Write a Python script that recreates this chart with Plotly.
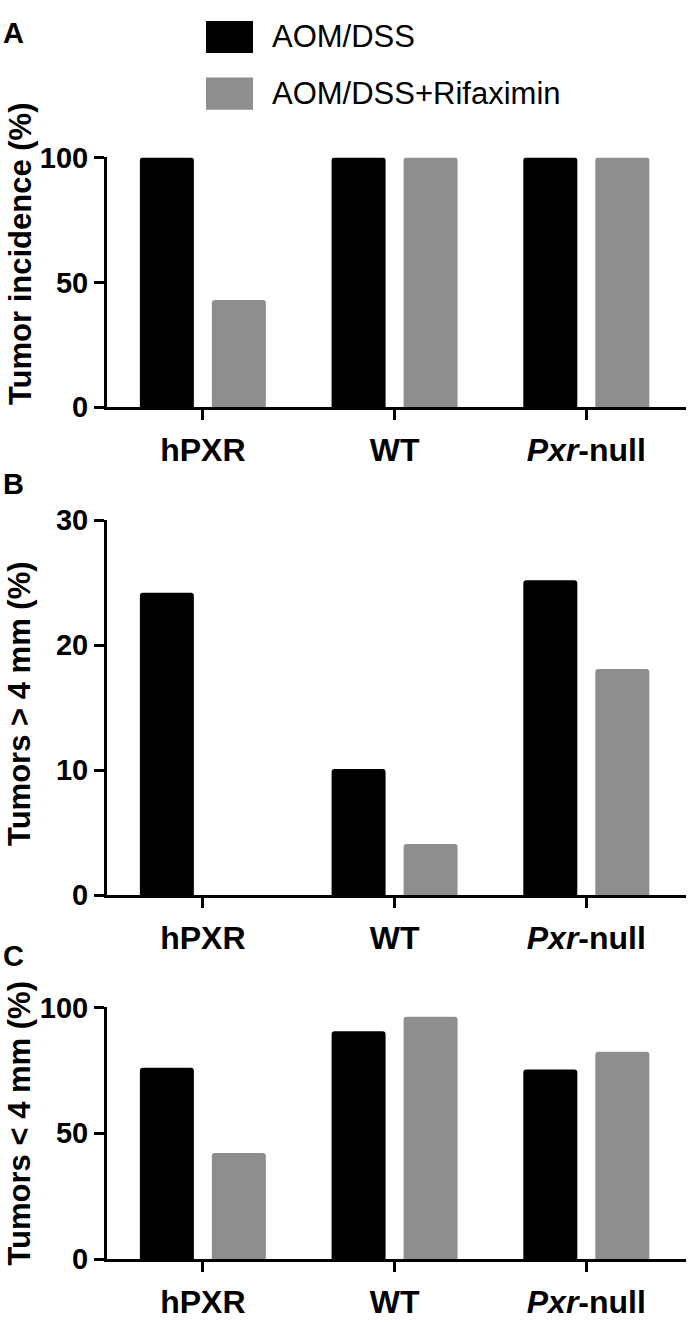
import plotly.graph_objects as go

W, H = 690, 1323

categories = ["hPXR", "WT", "<i>Pxr</i>-null"]
series_names = ["AOM/DSS", "AOM/DSS+Rifaximin"]
colors = ["#000000", "#8E8E8E"]

incidence_aom = [100, 100, 100]
incidence_rif = [43, 100, 100]

large_aom = [24.2, 10.1, 25.2]
large_rif = [0, 4.1, 18.1]

small_aom = [76, 90.5, 75.3]
small_rif = [42.2, 96.3, 82.4]

panel_titles = ["Tumor incidence (%)", "Tumors > 4 mm (%)", "Tumors < 4 mm (%)"]
panel_letters = ["A", "B", "C"]
yranges = [[0, 100], [0, 30], [0, 100]]
ytickvals = [[0, 50, 100], [0, 10, 20, 30], [0, 50, 100]]

# pixel geometry (top, bottom of each plot area)
panel_px = [(145, 401), (516.7, 901), (1016, 1274)]
x_left_px, x_right_px = 107, 686
title_centers_px = [244, 705, 1135]
letter_centers_px = [17, 480, 963]

FONT = "Liberation Sans, Arial, sans-serif"

data_sets = [(incidence_aom, incidence_rif), (large_aom, large_rif), (small_aom, small_rif)]

fig = go.Figure()
for i, (a, r) in enumerate(data_sets):
    suffix = "" if i == 0 else str(i + 1)
    for name, vals, col in zip(series_names, (a, r), colors):
        fig.add_trace(go.Bar(
            x=categories, y=vals, name=name,
            marker=dict(color=col, line=dict(width=0), cornerradius=3),
            xaxis="x" + suffix, yaxis="y" + suffix,
            showlegend=False,
        ))

layout = dict(
    width=W, height=H,
    margin=dict(l=0, r=0, t=0, b=0),
    paper_bgcolor="white", plot_bgcolor="white",
    barmode="group", bargap=0.249, bargroupgap=0.25,
    font=dict(family=FONT, color="black"),
    showlegend=False,
)

for i in range(3):
    suffix = "" if i == 0 else str(i + 1)
    top, bot = panel_px[i]
    layout["xaxis" + suffix] = dict(
        domain=[x_left_px / W, x_right_px / W],
        anchor="y" + suffix,
        range=[-0.5, 2.52],
        showline=True, linecolor="black", linewidth=3,
        ticks="outside", ticklen=10, tickwidth=3, tickcolor="black",
        tickfont=dict(size=32, family=FONT, weight="bold", color="black"),
        showgrid=False, zeroline=False, fixedrange=True,
        ticklabelstandoff=2,
    )
    layout["yaxis" + suffix] = dict(
        domain=[1 - bot / H, 1 - top / H],
        anchor="x" + suffix,
        range=yranges[i],
        tickvals=ytickvals[i],
        showline=True, linecolor="black", linewidth=3,
        ticks="outside", ticklen=10, tickwidth=3, tickcolor="black",
        tickfont=dict(size=29, family=FONT, weight="bold", color="black"),
        showgrid=False, zeroline=False, fixedrange=True,
    )

annotations = []
for i in range(3):
    annotations.append(dict(
        text=panel_titles[i], xref="paper", yref="paper",
        x=20 / W, y=1 - title_centers_px[i] / H,
        xanchor="center", yanchor="middle", textangle=-90, showarrow=False,
        font=dict(size=31, family=FONT, weight="bold", color="black"),
    ))
    annotations.append(dict(
        text=panel_letters[i], xref="paper", yref="paper",
        x=13 / W, y=1 - letter_centers_px[i] / H,
        xanchor="center", yanchor="middle", showarrow=False,
        font=dict(size=29, family=FONT, weight="bold", color="black"),
    ))

# legend (manual)
legend_rows = [(5, 38), (63, 96)]
shapes = []
for (t, b), name, col in zip(legend_rows, series_names, colors):
    shapes.append(dict(
        type="rect", xref="paper", yref="paper",
        x0=206 / W, x1=253 / W, y0=1 - b / H, y1=1 - t / H,
        fillcolor=col, line=dict(width=0),
    ))
    annotations.append(dict(
        text=name, xref="paper", yref="paper",
        x=270 / W, y=1 - ((t + b) / 2) / H,
        xanchor="left", yanchor="middle", showarrow=False,
        font=dict(size=31, family=FONT, color="black"),
    ))

layout["annotations"] = annotations
layout["shapes"] = shapes
fig.update_layout(**layout)

fig.write_html(
    "out.html",
    config={"displayModeBar": False, "staticPlot": True},
    post_script="document.body.style.margin='0';document.body.style.padding='0';document.documentElement.style.overflow='hidden';",
)
